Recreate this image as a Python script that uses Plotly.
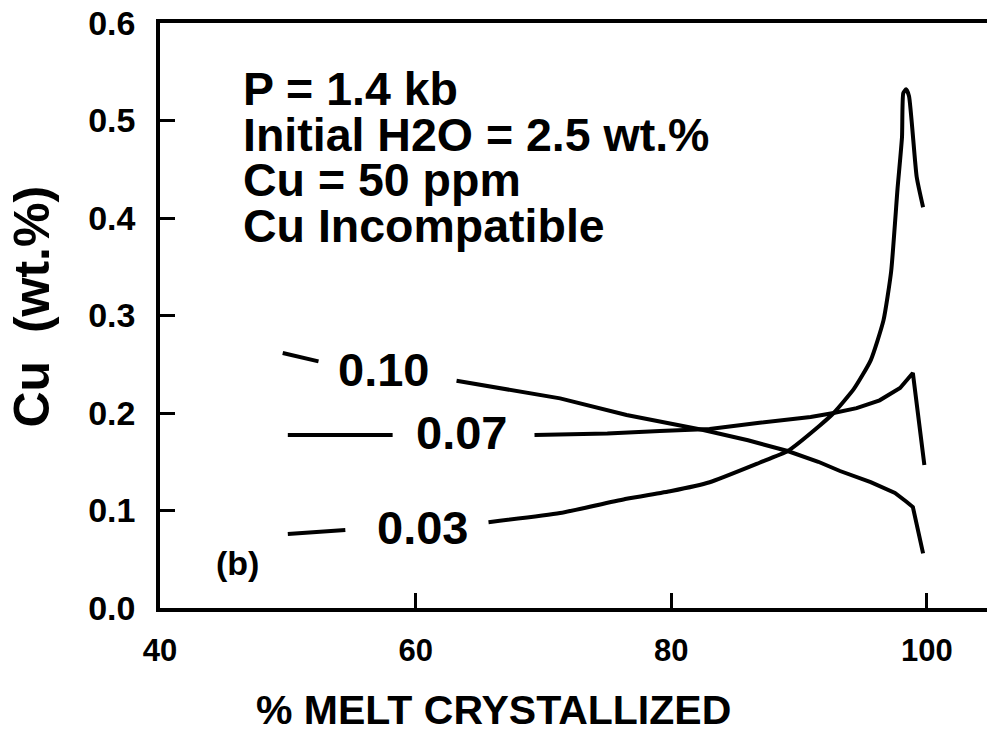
import plotly.graph_objects as go

# ---- data (x = % melt crystallized, y = Cu wt.%) ----
labels = ["0.10", "0.07", "0.03"]

x_010 = [49.6, 52.4, None, 63.2, 67.0, 71.3, 76.5, 82.5, 86.0, 89.1, 91.5, 93.2, 95.6, 97.5, 98.4, 98.9, 99.7]
y_010 = [0.2615, 0.253, None, 0.233, 0.225, 0.215, 0.198, 0.1826, 0.172, 0.161, 0.150, 0.1405, 0.129, 0.118, 0.109, 0.1036, 0.056]

x_007 = [50.0, 58.2, None, 69.3, 75.0, 79.1, 83.0, 86.9, 88.5, 90.9, 92.7, 94.5, 96.3, 97.9, 98.9, 99.8]
y_007 = [0.1774, 0.1774, None, 0.1774, 0.179, 0.1815, 0.1836, 0.19, 0.192, 0.196, 0.2, 0.205, 0.213, 0.2256, 0.241, 0.1467]

x_003 = [50.0, 54.5, None, 65.7, 71.3, 76.5, 80.0, 83.0, 86.9, 89.1, 91.6, 92.7, 94.3, 95.6, 96.6, 97.2, 97.7,
         98.05, 98.15, 98.37, 98.6, 99.2, 99.7]
y_003 = [0.076, 0.080, None, 0.088, 0.0974, 0.112, 0.12, 0.129, 0.149, 0.161, 0.187, 0.2, 0.225, 0.254, 0.295, 0.345, 0.43,
         0.483, 0.528, 0.532, 0.525, 0.442, 0.411]

label_x = [57.5, 63.6, 60.5]
label_y = [0.245, 0.181, 0.083]

info_lines = ["P = 1.4 kb", "Initial H2O = 2.5 wt.%", "Cu = 50 ppm", "Cu Incompatible"]
info_y = [0.532, 0.485, 0.439, 0.392]
info_x = 46.3

x_ticks = [40, 60, 80, 100]
y_ticks = [0.0, 0.1, 0.2, 0.3, 0.4, 0.5, 0.6]

FONT = "Liberation Sans, Arial, Helvetica, sans-serif"

fig = go.Figure()
for xs, ys, shape in [(x_010, y_010, "linear"), (x_007, y_007, "linear"), (x_003, y_003, "spline")]:
    fig.add_trace(go.Scatter(x=xs, y=ys, mode="lines", connectgaps=False,
                             line=dict(color="black", width=4, shape=shape, smoothing=0.5),
                             showlegend=False, hoverinfo="skip"))

annotations = []
for t, xv, yv in zip(labels, label_x, label_y):
    annotations.append(dict(x=xv, y=yv, text=t, showarrow=False, xanchor="center", yanchor="middle",
                            height=40,
                            font=dict(family=FONT, size=47, color="black", weight="bold")))
for t, yv in zip(info_lines, info_y):
    annotations.append(dict(x=info_x, y=yv, text=t, showarrow=False, xanchor="left", yanchor="middle",
                            font=dict(family=FONT, size=46.5, color="black", weight="bold")))
annotations.append(dict(x=46.1, y=0.046, text="(b)", showarrow=False, xanchor="center", yanchor="middle",
                        font=dict(family=FONT, size=34, color="black", weight="bold")))
annotations.append(dict(xref="paper", yref="paper", x=0.403, y=-0.174, text="% MELT CRYSTALLIZED",
                        showarrow=False, xanchor="center", yanchor="middle", height=38,
                        font=dict(family=FONT, size=41, color="black", weight="bold")))
annotations.append(dict(xref="paper", yref="paper", x=-0.155, y=0.515, text="Cu  (wt.%)", textangle=-90,
                        showarrow=False, xanchor="center", yanchor="middle",
                        font=dict(family=FONT, size=50, color="black", weight="bold")))

fig.update_layout(
    width=987, height=732,
    margin=dict(l=160, r=0, t=23, b=124),
    paper_bgcolor="white", plot_bgcolor="white",
    annotations=annotations,
    xaxis=dict(range=[40, 104.7], tickvals=x_ticks, ticktext=[str(v) for v in x_ticks],
               ticks="inside", ticklen=15, tickwidth=3, tickcolor="black",
               showline=True, linewidth=3.5, linecolor="black", mirror=True,
               showgrid=False, zeroline=False, ticklabelstandoff=12,
               tickfont=dict(family=FONT, size=31, color="black", weight="bold")),
    yaxis=dict(range=[0, 0.6], tickvals=y_ticks, ticktext=[f"{v:.1f}" for v in y_ticks],
               ticks="inside", ticklen=15, tickwidth=3, tickcolor="black",
               showline=True, linewidth=3.5, linecolor="black", mirror=False,
               showgrid=False, zeroline=False, ticklabelstandoff=14,
               tickfont=dict(family=FONT, size=34, color="black", weight="bold")),
)

fig.write_html("out.html")
